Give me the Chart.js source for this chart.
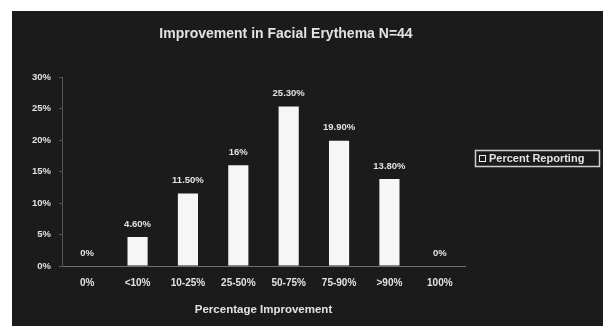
<!DOCTYPE html>
<html>
<head>
<meta charset="utf-8">
<script src="https://cdn.jsdelivr.net/npm/chart.js@4.4.1/dist/chart.umd.min.js"></script>
<style>
html,body{margin:0;padding:0;background:#fff}
#wrap{width:603px;height:326px}
</style>
</head>
<body>
<div id="wrap"><canvas id="chartErythema" width="603" height="326"></canvas></div>
<script>
const categories = ['0%', '<10%', '10-25%', '25-50%', '50-75%', '75-90%', '>90%', '100%']
const percentReporting = [0, 4.6, 11.5, 16, 25.3, 19.9, 13.8, 0]
const yTicks = [0, 5, 10, 15, 20, 25, 30]

const fontFam = '"Liberation Sans", Arial, sans-serif'
const textCol = '#e2e2e2'

function fmtPct(v){
  return (v === Math.round(v)) ? v + '%' : v.toFixed(2) + '%'
}

// dark panel, title, value labels and the boxed legend
const panelPlugin = {
  id: 'panel',
  beforeDraw(chart){
    const c = chart.ctx
    c.save()
    c.fillStyle = '#ffffff'
    c.fillRect(0, 0, chart.width, chart.height)
    c.fillStyle = '#1b1b1b'
    c.fillRect(12, 11, chart.width - 12, chart.height - 11)
    c.fillStyle = textCol
    c.font = 'bold 14px ' + fontFam
    c.textAlign = 'center'
    c.textBaseline = 'middle'
    c.fillText('Improvement in Facial Erythema N=44', 286, 34)
    c.restore()
  },
  afterDatasetsDraw(chart){
    const c = chart.ctx
    const meta = chart.getDatasetMeta(0)
    c.save()
    c.fillStyle = textCol
    c.font = 'bold 9.5px ' + fontFam
    c.textAlign = 'center'
    c.textBaseline = 'middle'
    meta.data.forEach((bar, i) => {
      c.fillText(fmtPct(percentReporting[i]), bar.x, bar.y - 13)
    })
    // legend
    c.strokeStyle = '#cfcfcf'
    c.lineWidth = 1.5
    c.strokeRect(475.5, 150.5, 124, 16)
    c.strokeStyle = '#f0f0f0'
    c.lineWidth = 1
    c.strokeRect(479.5, 155.5, 6, 6)
    c.textAlign = 'left'
    c.font = 'bold 11px ' + fontFam
    c.fillText('Percent Reporting', 489, 159)
    c.restore()
  }
}

new Chart(document.getElementById('chartErythema'), {
  type: 'bar',
  data: {
    labels: categories,
    datasets: [{
      label: 'Percent Reporting',
      data: percentReporting,
      backgroundColor: '#f6f6f6',
      borderWidth: 0,
      categoryPercentage: 0.8,
      barPercentage: 0.5
    }]
  },
  options: {
    responsive: false,
    animation: false,
    layout: {padding: {top: 77, left: 12, right: 138, bottom: 0}},
    plugins: {
      legend: {display: false},
      title: {display: false},
      tooltip: {enabled: false}
    },
    scales: {
      x: {
        grid: {display: false, drawTicks: false},
        border: {display: true, color: '#707070', width: 1},
        ticks: {color: textCol, font: {family: fontFam, size: 10, weight: 'bold'}, padding: 11, maxRotation: 0, autoSkip: false},
        title: {display: true, text: 'Percentage Improvement', color: textCol, font: {family: fontFam, size: 11.5, weight: 'bold'}, padding: {top: 3, bottom: 9}},
        afterFit(s){ s.height = 60 }
      },
      y: {
        min: 0, max: 30,
        afterBuildTicks(s){ s.ticks = yTicks.map(v => ({value: v})) },
        grid: {display: true, drawOnChartArea: false, tickLength: 3, color: '#555'},
        border: {display: true, color: '#555', width: 1},
        ticks: {color: textCol, font: {family: fontFam, size: 9.5, weight: 'bold'}, padding: 8, callback: v => v + '%'},
        afterFit(s){ s.width = 50 }
      }
    }
  },
  plugins: [panelPlugin]
})
</script>
</body>
</html>
